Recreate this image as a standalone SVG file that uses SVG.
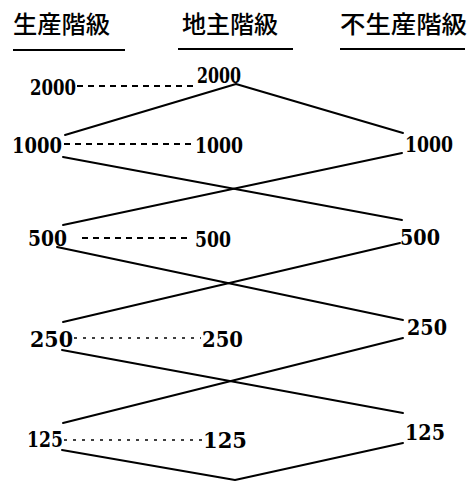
<svg xmlns="http://www.w3.org/2000/svg" width="475" height="482" viewBox="0 0 475 482">
<style>
.hd{font-family:"Noto Sans CJK JP","Noto Sans CJK SC",sans-serif;font-size:24px;font-weight:500;fill:#000}
.num{font-family:"DejaVu Serif","Liberation Serif",serif;font-size:22px;font-weight:700;fill:#000}
.ul{stroke:#000;stroke-width:2.2}
.ln{stroke:#000;stroke-width:2;fill:none;stroke-linecap:round;stroke-linejoin:round}
.ds{stroke:#000;stroke-width:2;stroke-dasharray:6 5}
.dt{stroke:#000;stroke-width:1.6;stroke-dasharray:3 6}
</style>
<rect width="475" height="482" fill="#fff"/>
<g id="header-productive">
<text class="hd" x="13" y="33" textLength="97" lengthAdjust="spacingAndGlyphs">生産階級</text>
<line class="ul" x1="13" y1="50" x2="125" y2="50"/>
</g>
<g id="header-landlord">
<text class="hd" x="182" y="33" textLength="96" lengthAdjust="spacingAndGlyphs">地主階級</text>
<line class="ul" x1="178" y1="49" x2="293" y2="49"/>
</g>
<g id="header-sterile">
<text class="hd" x="340" y="33" textLength="127" lengthAdjust="spacingAndGlyphs">不生産階級</text>
<line class="ul" x1="340" y1="49" x2="465" y2="49"/>
</g>
<g id="connectors">
<line class="ds" x1="77" y1="86" x2="196" y2="86"/>
<line class="ds" x1="64" y1="144" x2="194" y2="144"/>
<line class="ds" x1="82" y1="238" x2="191" y2="238"/>
<line class="dt" x1="74" y1="338" x2="201" y2="338"/>
<line class="dt" x1="64" y1="440" x2="202" y2="440"/>
<polyline class="ln" points="65,135 236,84 403,133"/>
<line class="ln" x1="63" y1="157" x2="402" y2="220"/>
<line class="ln" x1="402" y1="153" x2="63" y2="225"/>
<line class="ln" x1="57" y1="247" x2="403" y2="320"/>
<line class="ln" x1="400" y1="243" x2="63" y2="322"/>
<line class="ln" x1="62" y1="350" x2="403" y2="413"/>
<line class="ln" x1="403" y1="338" x2="63" y2="423"/>
<polyline class="ln" points="62,450 235,480 403,443"/>
</g>
<g id="p2000"><text class="num" x="30" y="95" textLength="46" lengthAdjust="spacingAndGlyphs">2000</text></g>
<g id="l2000"><text class="num" x="197" y="83" textLength="44" lengthAdjust="spacingAndGlyphs">2000</text></g>
<g id="p1000"><text class="num" x="12" y="153" textLength="50" lengthAdjust="spacingAndGlyphs">1000</text></g>
<g id="l1000"><text class="num" x="195" y="153" textLength="48" lengthAdjust="spacingAndGlyphs">1000</text></g>
<g id="s1000"><text class="num" x="405" y="152" textLength="48" lengthAdjust="spacingAndGlyphs">1000</text></g>
<g id="p500"><text class="num" x="28" y="246" textLength="39" lengthAdjust="spacingAndGlyphs">500</text></g>
<g id="l500"><text class="num" x="195" y="247" textLength="36" lengthAdjust="spacingAndGlyphs">500</text></g>
<g id="s500"><text class="num" x="400" y="245" textLength="40" lengthAdjust="spacingAndGlyphs">500</text></g>
<g id="p250"><text class="num" x="30" y="347" textLength="43" lengthAdjust="spacingAndGlyphs">250</text></g>
<g id="l250"><text class="num" x="202" y="347" textLength="41" lengthAdjust="spacingAndGlyphs">250</text></g>
<g id="s250"><text class="num" x="407" y="335" textLength="40" lengthAdjust="spacingAndGlyphs">250</text></g>
<g id="p125"><text class="num" x="27" y="447" textLength="36" lengthAdjust="spacingAndGlyphs">125</text></g>
<g id="l125"><text class="num" x="203" y="448" textLength="44" lengthAdjust="spacingAndGlyphs">125</text></g>
<g id="s125"><text class="num" x="405" y="440" textLength="40" lengthAdjust="spacingAndGlyphs">125</text></g>
</svg>
